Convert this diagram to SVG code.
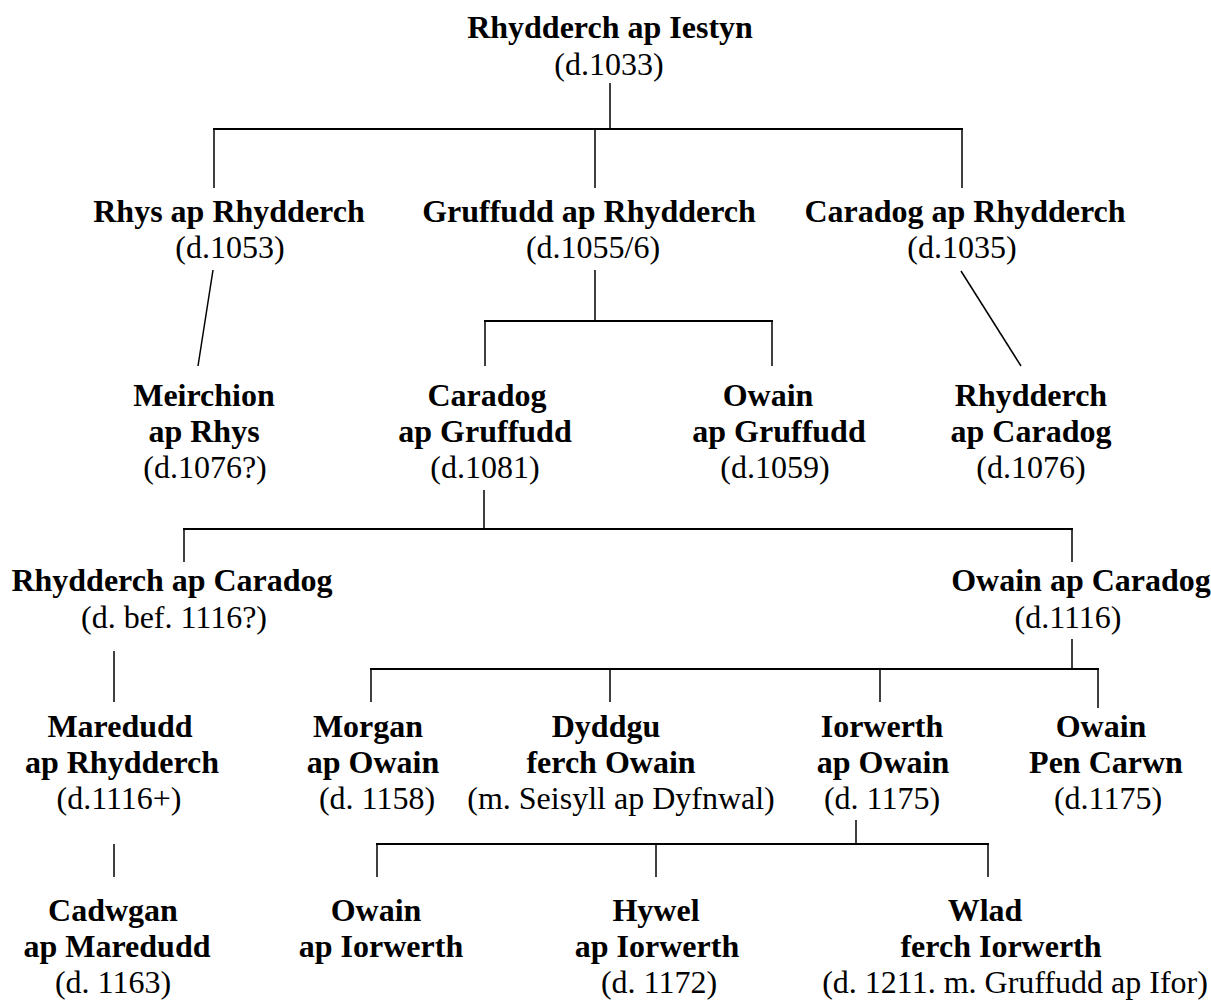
<svg xmlns="http://www.w3.org/2000/svg" width="1211" height="1001" viewBox="0 0 1211 1001">
<style>
text{font-family:"Liberation Serif","Times New Roman",serif;font-size:32px;fill:#000;text-anchor:middle}
.b{font-weight:bold}
.c line{stroke:#000;stroke-width:1.5;fill:none}
.c line.h{stroke-width:2.2}
</style>
<rect width="1211" height="1001" fill="#fff"/>
<g class="c" id="connectors">
<line x1="610" y1="83" x2="610" y2="129"/>
<line class="h" x1="213" y1="129" x2="963" y2="129"/>
<line x1="214" y1="129" x2="214" y2="188"/>
<line x1="595" y1="129" x2="595" y2="188"/>
<line x1="962" y1="129" x2="962" y2="188"/>
<line x1="213" y1="270" x2="198" y2="366"/>
<line x1="595" y1="270" x2="595" y2="321"/>
<line class="h" x1="484" y1="321" x2="773" y2="321"/>
<line x1="485" y1="321" x2="485" y2="366"/>
<line x1="772" y1="321" x2="772" y2="366"/>
<line x1="961" y1="271" x2="1021" y2="366"/>
<line x1="484" y1="490" x2="484" y2="529"/>
<line class="h" x1="183" y1="529" x2="1073" y2="529"/>
<line x1="184" y1="529" x2="184" y2="562"/>
<line x1="1072" y1="529" x2="1072" y2="562"/>
<line x1="114" y1="651" x2="114" y2="702"/>
<line x1="1072" y1="639" x2="1072" y2="669"/>
<line class="h" x1="370" y1="669" x2="1099" y2="669"/>
<line x1="371" y1="669" x2="371" y2="702"/>
<line x1="610" y1="669" x2="610" y2="702"/>
<line x1="880" y1="669" x2="880" y2="702"/>
<line x1="1098" y1="669" x2="1098" y2="708"/>
<line x1="114" y1="844" x2="114" y2="877"/>
<line x1="856" y1="820" x2="856" y2="844"/>
<line class="h" x1="376" y1="844" x2="989" y2="844"/>
<line x1="377" y1="844" x2="377" y2="877"/>
<line x1="656" y1="844" x2="656" y2="877"/>
<line x1="988" y1="844" x2="988" y2="877"/>
</g>
<g id="rhydderch-ap-iestyn"><text class="b" x="610" y="38">Rhydderch ap Iestyn</text><text x="609" y="75">(d.1033)</text></g>
<g id="rhys-ap-rhydderch"><text class="b" x="229" y="222">Rhys ap Rhydderch</text><text x="230" y="258">(d.1053)</text></g>
<g id="gruffudd-ap-rhydderch"><text class="b" x="589" y="222">Gruffudd ap Rhydderch</text><text x="593" y="258">(d.1055/6)</text></g>
<g id="caradog-ap-rhydderch"><text class="b" x="965" y="222">Caradog ap Rhydderch</text><text x="962" y="258">(d.1035)</text></g>
<g id="meirchion-ap-rhys"><text class="b" x="204" y="406">Meirchion</text><text class="b" x="204" y="442">ap Rhys</text><text x="205" y="478">(d.1076?)</text></g>
<g id="caradog-ap-gruffudd"><text class="b" x="487" y="406">Caradog</text><text class="b" x="485" y="442">ap Gruffudd</text><text x="485" y="478">(d.1081)</text></g>
<g id="owain-ap-gruffudd"><text class="b" x="768" y="406">Owain</text><text class="b" x="779" y="442">ap Gruffudd</text><text x="775" y="478">(d.1059)</text></g>
<g id="rhydderch-ap-caradog-1"><text class="b" x="1031" y="406">Rhydderch</text><text class="b" x="1031" y="442">ap Caradog</text><text x="1031" y="478">(d.1076)</text></g>
<g id="rhydderch-ap-caradog-2"><text class="b" x="172" y="591">Rhydderch ap Caradog</text><text x="174" y="628">(d. bef. 1116?)</text></g>
<g id="owain-ap-caradog"><text class="b" x="1081" y="591">Owain ap Caradog</text><text x="1068" y="628">(d.1116)</text></g>
<g id="maredudd-ap-rhydderch"><text class="b" x="120" y="737">Maredudd</text><text class="b" x="122" y="773">ap Rhydderch</text><text x="119" y="809">(d.1116+)</text></g>
<g id="morgan-ap-owain"><text class="b" x="368" y="737">Morgan</text><text class="b" x="373" y="773">ap Owain</text><text x="377" y="809">(d. 1158)</text></g>
<g id="dyddgu-ferch-owain"><text class="b" x="606" y="737">Dyddgu</text><text class="b" x="611" y="773">ferch Owain</text><text x="621" y="809">(m. Seisyll ap Dyfnwal)</text></g>
<g id="iorwerth-ap-owain"><text class="b" x="882" y="737">Iorwerth</text><text class="b" x="883" y="773">ap Owain</text><text x="882" y="809">(d. 1175)</text></g>
<g id="owain-pen-carwn"><text class="b" x="1101" y="737">Owain</text><text class="b" x="1106" y="773">Pen Carwn</text><text x="1108" y="809">(d.1175)</text></g>
<g id="cadwgan-ap-maredudd"><text class="b" x="113" y="921">Cadwgan</text><text class="b" x="117" y="957">ap Maredudd</text><text x="113" y="993">(d. 1163)</text></g>
<g id="owain-ap-iorwerth"><text class="b" x="376" y="921">Owain</text><text class="b" x="381" y="957">ap Iorwerth</text></g>
<g id="hywel-ap-iorwerth"><text class="b" x="656" y="921">Hywel</text><text class="b" x="657" y="957">ap Iorwerth</text><text x="659" y="993">(d. 1172)</text></g>
<g id="wlad-ferch-iorwerth"><text class="b" x="985" y="921">Wlad</text><text class="b" x="1001" y="957">ferch Iorwerth</text><text x="1015" y="993">(d. 1211. m. Gruffudd ap Ifor)</text></g>
</svg>
